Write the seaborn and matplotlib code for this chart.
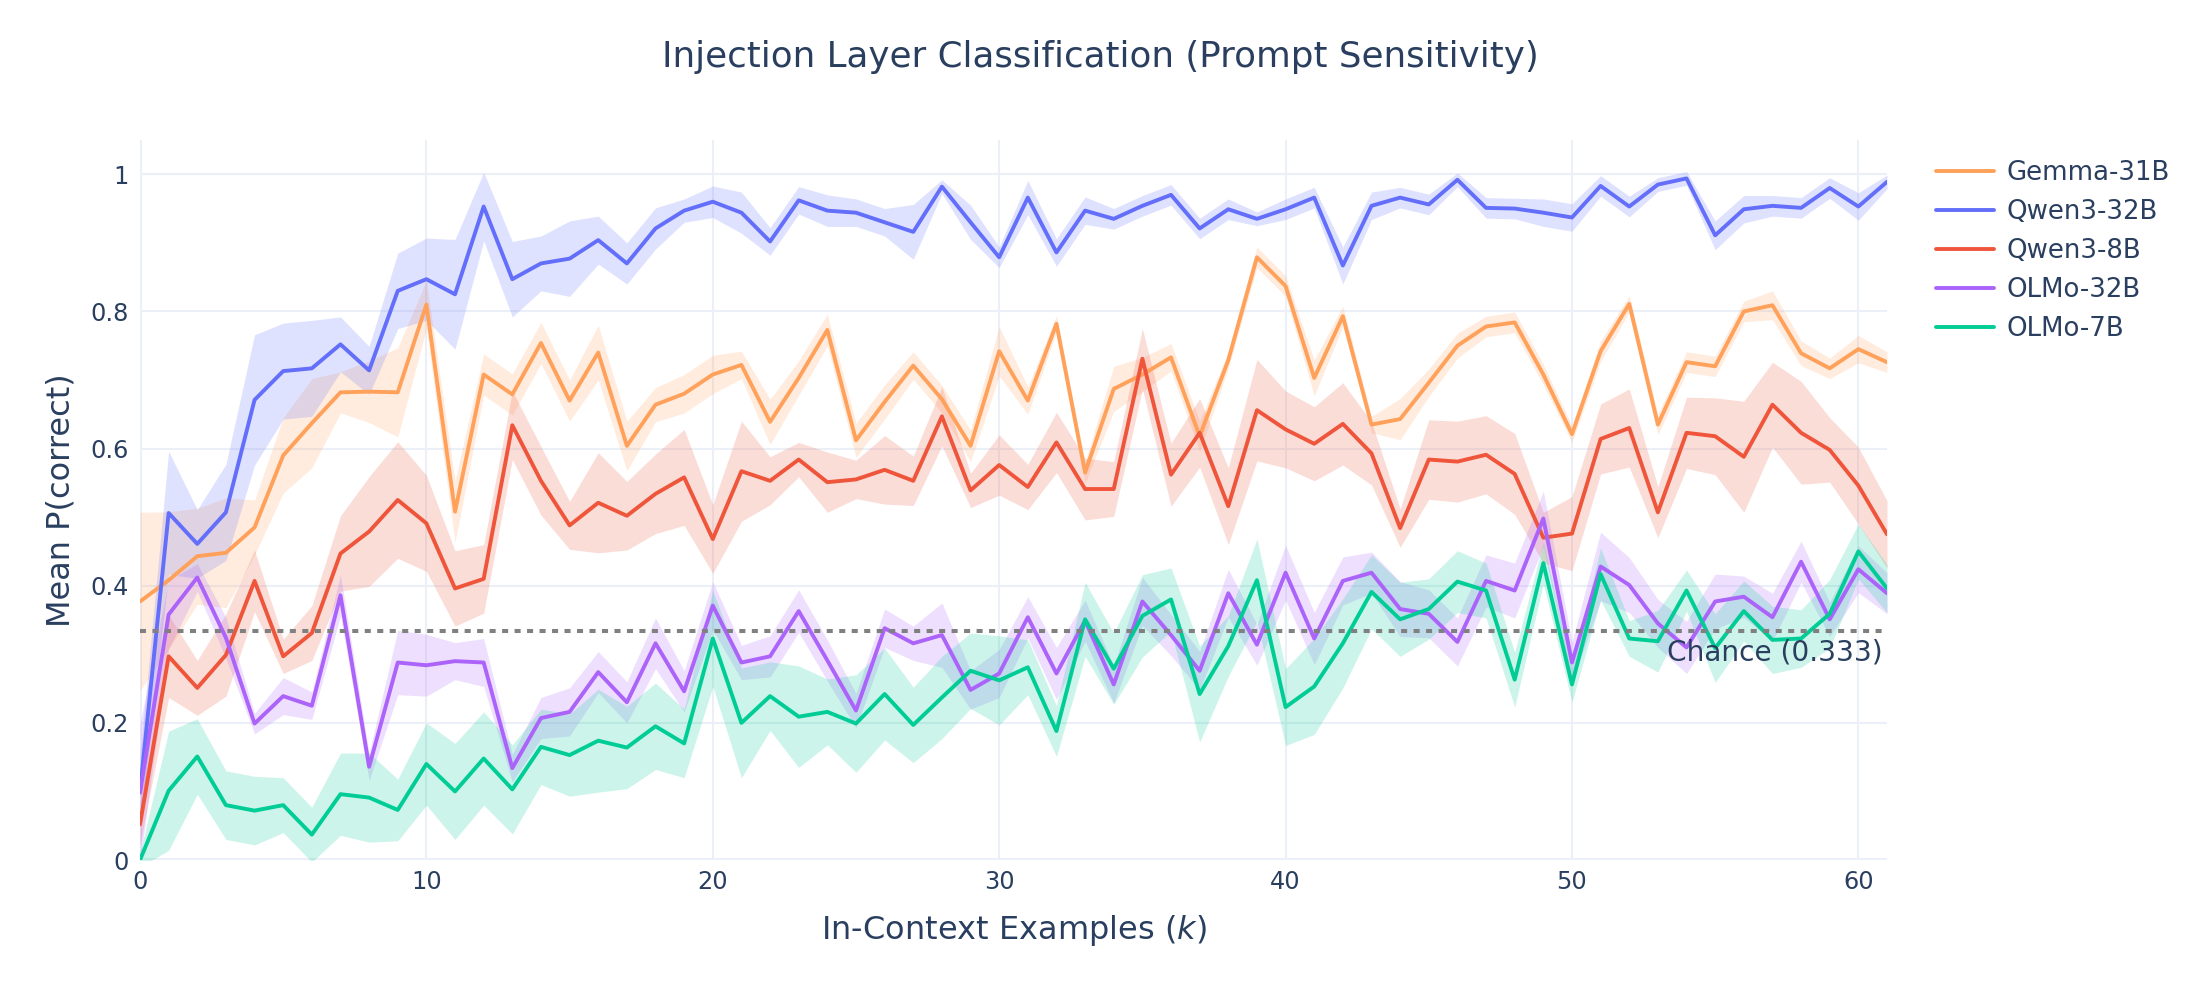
import numpy as np
import pandas as pd
import matplotlib
matplotlib.use("Agg")
import matplotlib.pyplot as plt
import seaborn as sns

# ---------------- data ----------------
k_values = list(range(62))
models = ["Gemma-31B", "Qwen3-32B", "Qwen3-8B", "OLMo-32B", "OLMo-7B"]
colors = ["#FFA15A", "#636EFA", "#EF553B", "#AB63FA", "#00CC96"]

gemma_31b = [0.377, 0.408, 0.443, 0.448, 0.485, 0.590, 0.637, 0.682, 0.683, 0.682,
             0.810, 0.508, 0.708, 0.679, 0.754, 0.670, 0.740, 0.604, 0.664, 0.680,
             0.708, 0.722, 0.639, 0.703, 0.773, 0.612, 0.668, 0.721, 0.672, 0.604,
             0.742, 0.670, 0.782, 0.565, 0.687, 0.708, 0.733, 0.618, 0.729, 0.879,
             0.837, 0.703, 0.793, 0.635, 0.643, 0.696, 0.750, 0.778, 0.784, 0.708,
             0.621, 0.742, 0.811, 0.635, 0.726, 0.720, 0.800, 0.809, 0.739, 0.717,
             0.745, 0.726]
gemma_31b_err = [0.13, 0.10, 0.07, 0.08, 0.04, 0.055, 0.065, 0.03, 0.045, 0.065,
                 0.035, 0.045, 0.03, 0.03, 0.03, 0.03, 0.04, 0.036, 0.025, 0.028,
                 0.028, 0.02, 0.033, 0.025, 0.023, 0.025, 0.025, 0.02, 0.02, 0.023,
                 0.036, 0.02, 0.012, 0.015, 0.033, 0.025, 0.02, 0.022, 0.012, 0.015,
                 0.015, 0.026, 0.015, 0.012, 0.03, 0.02, 0.018, 0.015, 0.015, 0.015,
                 0.012, 0.015, 0.012, 0.015, 0.015, 0.015, 0.015, 0.021, 0.018, 0.015,
                 0.02, 0.015]

qwen3_32b = [0.100, 0.506, 0.461, 0.507, 0.671, 0.713, 0.717, 0.752, 0.714, 0.830,
             0.847, 0.825, 0.953, 0.847, 0.870, 0.877, 0.904, 0.870, 0.921, 0.947,
             0.960, 0.944, 0.902, 0.962, 0.947, 0.944, 0.930, 0.916, 0.982, 0.930,
             0.879, 0.966, 0.886, 0.947, 0.935, 0.954, 0.970, 0.921, 0.949, 0.935,
             0.949, 0.966, 0.867, 0.954, 0.966, 0.956, 0.992, 0.951, 0.950, 0.944,
             0.937, 0.983, 0.953, 0.985, 0.994, 0.911, 0.949, 0.954, 0.951, 0.980,
             0.953, 0.989]
qwen3_32b_err = [0.05, 0.09, 0.05, 0.07, 0.095, 0.07, 0.07, 0.04, 0.035, 0.055,
                 0.06, 0.08, 0.05, 0.055, 0.04, 0.055, 0.035, 0.03, 0.03, 0.017,
                 0.023, 0.03, 0.02, 0.02, 0.023, 0.02, 0.02, 0.04, 0.01, 0.025,
                 0.015, 0.025, 0.02, 0.02, 0.015, 0.015, 0.015, 0.015, 0.015, 0.01,
                 0.015, 0.015, 0.027, 0.02, 0.015, 0.015, 0.01, 0.015, 0.015, 0.02,
                 0.02, 0.015, 0.015, 0.01, 0.01, 0.021, 0.02, 0.015, 0.015, 0.015,
                 0.02, 0.01]

qwen3_8b = [0.052, 0.297, 0.251, 0.299, 0.407, 0.297, 0.331, 0.447, 0.479, 0.525,
            0.491, 0.396, 0.410, 0.634, 0.553, 0.488, 0.521, 0.502, 0.534, 0.558,
            0.468, 0.567, 0.553, 0.584, 0.551, 0.555, 0.569, 0.553, 0.647, 0.539,
            0.576, 0.544, 0.609, 0.541, 0.541, 0.731, 0.562, 0.623, 0.516, 0.656,
            0.628, 0.607, 0.636, 0.593, 0.484, 0.584, 0.581, 0.591, 0.563, 0.470,
            0.476, 0.614, 0.630, 0.507, 0.623, 0.618, 0.588, 0.664, 0.623, 0.598,
            0.546, 0.475]
qwen3_8b_err = [0.03, 0.06, 0.04, 0.06, 0.045, 0.025, 0.04, 0.055, 0.08, 0.085,
                0.07, 0.055, 0.05, 0.05, 0.05, 0.035, 0.073, 0.05, 0.058, 0.07,
                0.05, 0.073, 0.035, 0.025, 0.044, 0.028, 0.05, 0.036, 0.043, 0.025,
                0.044, 0.033, 0.044, 0.045, 0.04, 0.044, 0.046, 0.05, 0.056, 0.074,
                0.056, 0.054, 0.06, 0.046, 0.028, 0.058, 0.059, 0.057, 0.059, 0.037,
                0.054, 0.051, 0.057, 0.037, 0.052, 0.056, 0.081, 0.062, 0.075, 0.047,
                0.056, 0.049]

olmo_32b = [0.098, 0.358, 0.412, 0.324, 0.199, 0.239, 0.225, 0.386, 0.136, 0.288,
            0.284, 0.290, 0.288, 0.134, 0.207, 0.216, 0.274, 0.230, 0.316, 0.246,
            0.371, 0.288, 0.297, 0.363, 0.291, 0.218, 0.338, 0.316, 0.328, 0.248,
            0.272, 0.354, 0.272, 0.349, 0.256, 0.377, 0.328, 0.276, 0.389, 0.314,
            0.419, 0.323, 0.407, 0.419, 0.366, 0.359, 0.318, 0.407, 0.393, 0.498,
            0.288, 0.428, 0.401, 0.345, 0.310, 0.377, 0.384, 0.354, 0.435, 0.351,
            0.424, 0.389]
olmo_32b_err = [0.10, 0.05, 0.02, 0.03, 0.015, 0.027, 0.02, 0.03, 0.02, 0.047,
                0.045, 0.027, 0.035, 0.02, 0.03, 0.035, 0.03, 0.03, 0.037, 0.03,
                0.035, 0.025, 0.03, 0.031, 0.03, 0.025, 0.028, 0.025, 0.047, 0.028,
                0.035, 0.03, 0.038, 0.03, 0.027, 0.035, 0.03, 0.028, 0.035, 0.03,
                0.04, 0.038, 0.035, 0.03, 0.04, 0.035, 0.035, 0.038, 0.04, 0.04,
                0.03, 0.05, 0.04, 0.035, 0.038, 0.04, 0.03, 0.035, 0.03, 0.025,
                0.034, 0.03]

olmo_7b = [0.000, 0.101, 0.151, 0.080, 0.072, 0.080, 0.037, 0.096, 0.091, 0.073,
           0.140, 0.100, 0.148, 0.103, 0.165, 0.153, 0.174, 0.164, 0.195, 0.170,
           0.323, 0.200, 0.239, 0.209, 0.216, 0.199, 0.242, 0.197, 0.237, 0.276,
           0.262, 0.281, 0.188, 0.351, 0.279, 0.356, 0.380, 0.242, 0.312, 0.408,
           0.223, 0.253, 0.316, 0.391, 0.351, 0.366, 0.406, 0.393, 0.263, 0.433,
           0.256, 0.417, 0.323, 0.319, 0.393, 0.309, 0.363, 0.321, 0.323, 0.359,
           0.450, 0.396]
olmo_7b_err = [0.01, 0.087, 0.055, 0.05, 0.05, 0.04, 0.04, 0.06, 0.065, 0.045,
               0.06, 0.07, 0.068, 0.065, 0.055, 0.06, 0.075, 0.06, 0.063, 0.05,
               0.07, 0.08, 0.05, 0.074, 0.048, 0.071, 0.067, 0.055, 0.06, 0.055,
               0.065, 0.04, 0.037, 0.054, 0.052, 0.06, 0.046, 0.07, 0.044, 0.06,
               0.056, 0.07, 0.065, 0.054, 0.054, 0.044, 0.045, 0.04, 0.04, 0.03,
               0.026, 0.038, 0.026, 0.045, 0.03, 0.05, 0.044, 0.049, 0.042, 0.05,
               0.04, 0.035]

chance_level = 1 / 3
x_ticks = [0, 10, 20, 30, 40, 50, 60]
y_ticks = [0, 0.2, 0.4, 0.6, 0.8, 1.0]
y_tick_labels = ["0", "0.2", "0.4", "0.6", "0.8", "1"]

series_means = [gemma_31b, qwen3_32b, qwen3_8b, olmo_32b, olmo_7b]
series_errs = [gemma_31b_err, qwen3_32b_err, qwen3_8b_err, olmo_32b_err, olmo_7b_err]

frames = []
for name, m, e in zip(models, series_means, series_errs):
    m = np.asarray(m)
    e = np.asarray(e)
    frames.append(pd.DataFrame({"k": k_values, "p": m, "lo": m - e, "hi": m + e,
                                "model": name}))
df = pd.concat(frames, ignore_index=True)

# ---------------- style ----------------
sns.set_theme(style="white")
plt.rcParams["font.family"] = ["DejaVu Sans"]
plt.rcParams["mathtext.fontset"] = "dejavusans"
TXT = "#2a3f5f"
GRID = "#EBF0F8"

fig = plt.figure(figsize=(22, 10), dpi=100)
ax = fig.add_axes([140 / 2200, 140 / 1000, (1887 - 140) / 2200, 720 / 1000])

for name, col in zip(models, colors):
    sub = df[df["model"] == name]
    ax.fill_between(sub["k"], sub["lo"], sub["hi"], color=col, alpha=0.2, lw=0)
    sns.lineplot(data=sub, x="k", y="p", color=col, linewidth=2.8, label=name,
                 ax=ax, errorbar=None)

ax.axhline(chance_level, color="#808080", lw=2.9, ls=(0, (1.5, 1.6)), zorder=5)
ax.text(60.85, 0.303, "Chance (0.333)", ha="right", va="center", fontsize=20.2,
        color=TXT, zorder=6)

ax.set_xlim(0, 61)
ax.set_ylim(0, 1.05)
ax.set_xticks(x_ticks)
ax.set_yticks(y_ticks)
ax.set_yticklabels(y_tick_labels)
ax.grid(True, color=GRID, lw=1.45)
ax.set_axisbelow(True)
ax.axvline(0, color=GRID, lw=2.9, zorder=0.5)
ax.axhline(0, color=GRID, lw=2.9, zorder=0.5)
for s in ax.spines.values():
    s.set_visible(False)
ax.tick_params(length=0, labelsize=17.3, colors=TXT)
ax.tick_params(axis="y", pad=8)
ax.tick_params(axis="x", pad=7)

ax.set_xlabel("In-Context Examples ($k$)", fontsize=23, color=TXT, labelpad=14)
ax.set_ylabel("Mean P(correct)", fontsize=23, color=TXT, labelpad=10)
fig.text(0.5, 1 - 57.5 / 1000, "Injection Layer Classification (Prompt Sensitivity)",
         ha="center", va="center", fontsize=25.7, color=TXT)

handles, labels = ax.get_legend_handles_labels()
ax.get_legend().remove()
leg = fig.legend(handles, labels, loc="upper left",
                 bbox_to_anchor=(1936 / 2200, 1 - 160 / 1000), frameon=False,
                 fontsize=18.7, handlelength=2.25, handletextpad=0.45,
                 labelspacing=0.5, borderaxespad=0, borderpad=0)
for t in leg.get_texts():
    t.set_color(TXT)

fig.savefig("out.png", dpi=100)
